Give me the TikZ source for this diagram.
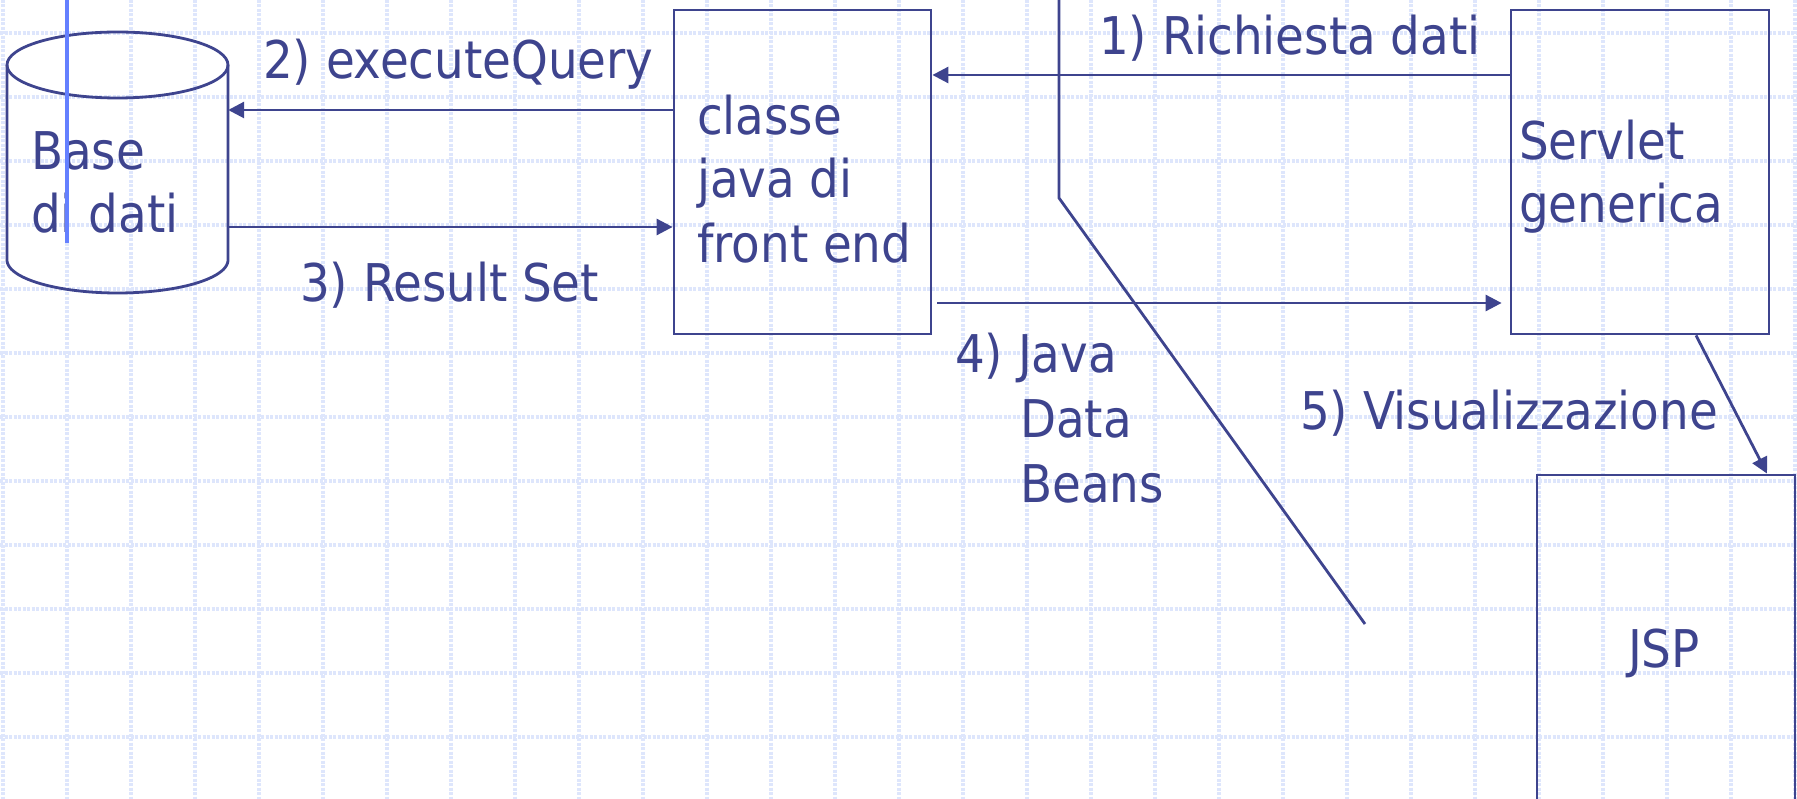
\documentclass[tikz,border=0pt]{standalone}
\usepackage{fontspec}
\setmainfont{DejaVu Sans Condensed}
\usetikzlibrary{arrows.meta,calc}
\definecolor{ink}{RGB}{62,68,142}
\definecolor{gridc}{RGB}{222,230,252}
\definecolor{marker}{RGB}{100,128,255}
\begin{document}
\begin{tikzpicture}[x=1pt,y=-1pt,
  lbl/.style={anchor=base west,inner sep=0pt,text=ink,font=\fontsize{52}{64}\selectfont},
  boxnode/.style={draw=ink,line width=2.8pt,rectangle,inner sep=0pt},
  link/.style={draw=ink,line width=2.8pt},
  arr/.style={link,-{Triangle[length=16pt,width=16pt]}},
  gridline/.style={draw=gridc,line width=3.6pt,dash pattern=on 3pt off 1.5pt}]
\useasboundingbox (0,0) rectangle (1797,799);
\fill[white] (0,0) rectangle (1797,799);
\begin{scope}
\clip (0,0) rectangle (1797,799);
% background grid
\foreach \i in {0,...,28} \draw[gridline] ({3+64*\i},0) -- ({3+64*\i},799);
\foreach \j in {0,...,12} \draw[gridline] (0,{33+64*\j}) -- (1797,{33+64*\j});

% database cylinder
\node[inner sep=0pt,minimum width=221pt,minimum height=261pt] (db) at (117.5,162.5) {};
\draw[link] (117.5,65) ellipse [x radius=110.5, y radius=33];
\draw[link] (7,65) -- (7,260)
  -- plot[domain=180:360,samples=60] ({117.5+110.5*cos(\x)},{260-33*sin(\x)})
  -- (228,65);
\node[lbl] (dbt1) at (31,170) {Base};
\node[lbl] (dbt2) at (31,233) {di dati};
\draw[marker,line width=3.2pt] (67,0) -- (67,243);

% boxes
\node[boxnode,minimum width=257pt,minimum height=324pt] (fe) at (802.5,172) {};
\node[boxnode,minimum width=258pt,minimum height=324pt] (sv) at (1640,172) {};
\node[boxnode,minimum width=258pt,minimum height=354pt] (jsp) at (1666,652) {};

\node[lbl] (fet1) at (697,135) {classe};
\node[lbl] (fet2) at (697,198) {java di};
\node[lbl] (fet3) at (697,263) {front end};
\node[lbl] (svt1) at (1519,160) {Servlet};
\node[lbl] (svt2) at (1519,223) {generica};
\node[lbl] (jspt) at (1628,667) {JSP};

% connectors
\coordinate (r1) at (0,75);
\coordinate (r2) at (0,110);
\coordinate (r3) at (0,227);
\coordinate (r4) at (0,303);
\draw[arr] (sv.west |- r1) -- (fe.east |- r1);
\draw[arr] (fe.west |- r2) -- (db.east |- r2);
\draw[arr] (db.east |- r3) -- (fe.west |- r3);
\draw[arr] ($(fe.east |- r4)+(5,0)$) -- ($(sv.west |- r4)+(-8,0)$);
\draw[arr] ($(sv.south)+(56,0)$) -- ($(jsp.north)+(101,0)$);

% free polyline
\coordinate (p0) at (1059,0);
\coordinate (p1) at (1059,198);
\coordinate (p2) at (1365,624);
\draw[link] (p0) -- (p1) -- (p2);

% labels
\node[lbl] (l1) at (1099,55) {1) Richiesta dati};
\node[lbl] (l2) at (263,79) {2) executeQuery};
\node[lbl] (l3) at (300,302) {3) Result Set};
\node[lbl] (l4a) at (955,373) {4) Java};
\node[lbl] (l4b) at (1020,438) {Data};
\node[lbl] (l4c) at (1020,502) {Beans};
\node[lbl] (l5) at (1300,430) {5) Visualizzazione};
\end{scope}
\end{tikzpicture}
\end{document}
